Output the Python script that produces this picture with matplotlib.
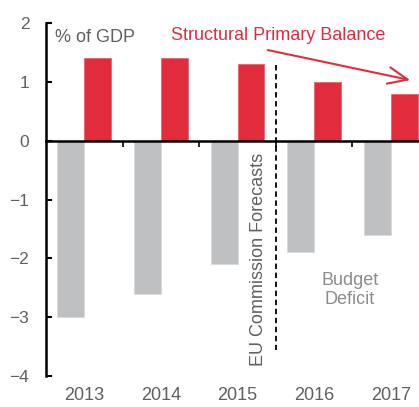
import numpy as np
import matplotlib.pyplot as plt

plt.rcParams['font.family'] = ['Liberation Sans', 'DejaVu Sans']

years = ['2013', '2014', '2015', '2016', '2017']
structural_primary_balance = [1.4, 1.4, 1.3, 1.0, 0.8]
budget_deficit = [-3.0, -2.6, -2.1, -1.9, -1.6]
y_ticks = [-4, -3, -2, -1, 0, 1, 2]

red = '#e32c3b'
grey = '#bfc0c2'
text_grey = '#606060'

fig = plt.figure(figsize=(4.19, 4.07), dpi=100)
ax = fig.add_axes([46 / 419, 1 - 376 / 407, 383 / 419, 353 / 407])

x = np.arange(len(years))
w = 0.35
ax.bar(x - w / 2, budget_deficit, w, color=grey, edgecolor='#d6d7d8', linewidth=0.5, zorder=2)
ax.bar(x + w / 2, structural_primary_balance, w, color=red, edgecolor='#ea5a66', linewidth=0.5, zorder=2)

ax.set_xlim(-0.5, len(years) - 0.5)
ax.set_ylim(-4, 2)
ax.set_yticks(y_ticks)
ax.tick_params(axis='y', direction='in', length=4, width=1.5, pad=12,
               labelsize=12.5, labelcolor=text_grey)

for s in ['top', 'right']:
    ax.spines[s].set_visible(False)
ax.spines['left'].set_linewidth(1.8)
ax.spines['bottom'].set_position(('data', 0))
ax.spines['bottom'].set_linewidth(1.8)
ax.spines['bottom'].set_zorder(3)
ax.set_xticks(x[:-1] + 0.5)
ax.set_xticklabels([])
ax.tick_params(axis='x', direction='out', length=4, width=1.2)

for i, yr in enumerate(years):
    ax.text(i, -4.18, yr, ha='center', va='top', fontsize=13, color=text_grey)

# forecast divider
ax.plot([2.5, 2.5], [1.29, -3.55], color='black', linestyle=(0, (3, 2)), linewidth=1.3, zorder=3)
ax.text(2.27, -3.83, 'EU Commission Forecasts', rotation=90, ha='center', va='bottom',
        fontsize=13, color=text_grey)

ax.text(-0.38, 1.76, '% of GDP', ha='left', va='center', fontsize=13, color=text_grey)
ax.text(2.53, 1.79, 'Structural Primary Balance', ha='center', va='center', fontsize=13, color=red)
ax.annotate('', xy=(4.29, 1.02), xytext=(2.36, 1.55),
            arrowprops=dict(arrowstyle='->,head_length=1.4,head_width=0.6', color=red, lw=1.5))
ax.text(3.47, -2.54, 'Budget\nDeficit', ha='center', va='center', fontsize=13,
        color='#8c8c8c', linespacing=1.2)

fig.savefig('out.png', dpi=100)
